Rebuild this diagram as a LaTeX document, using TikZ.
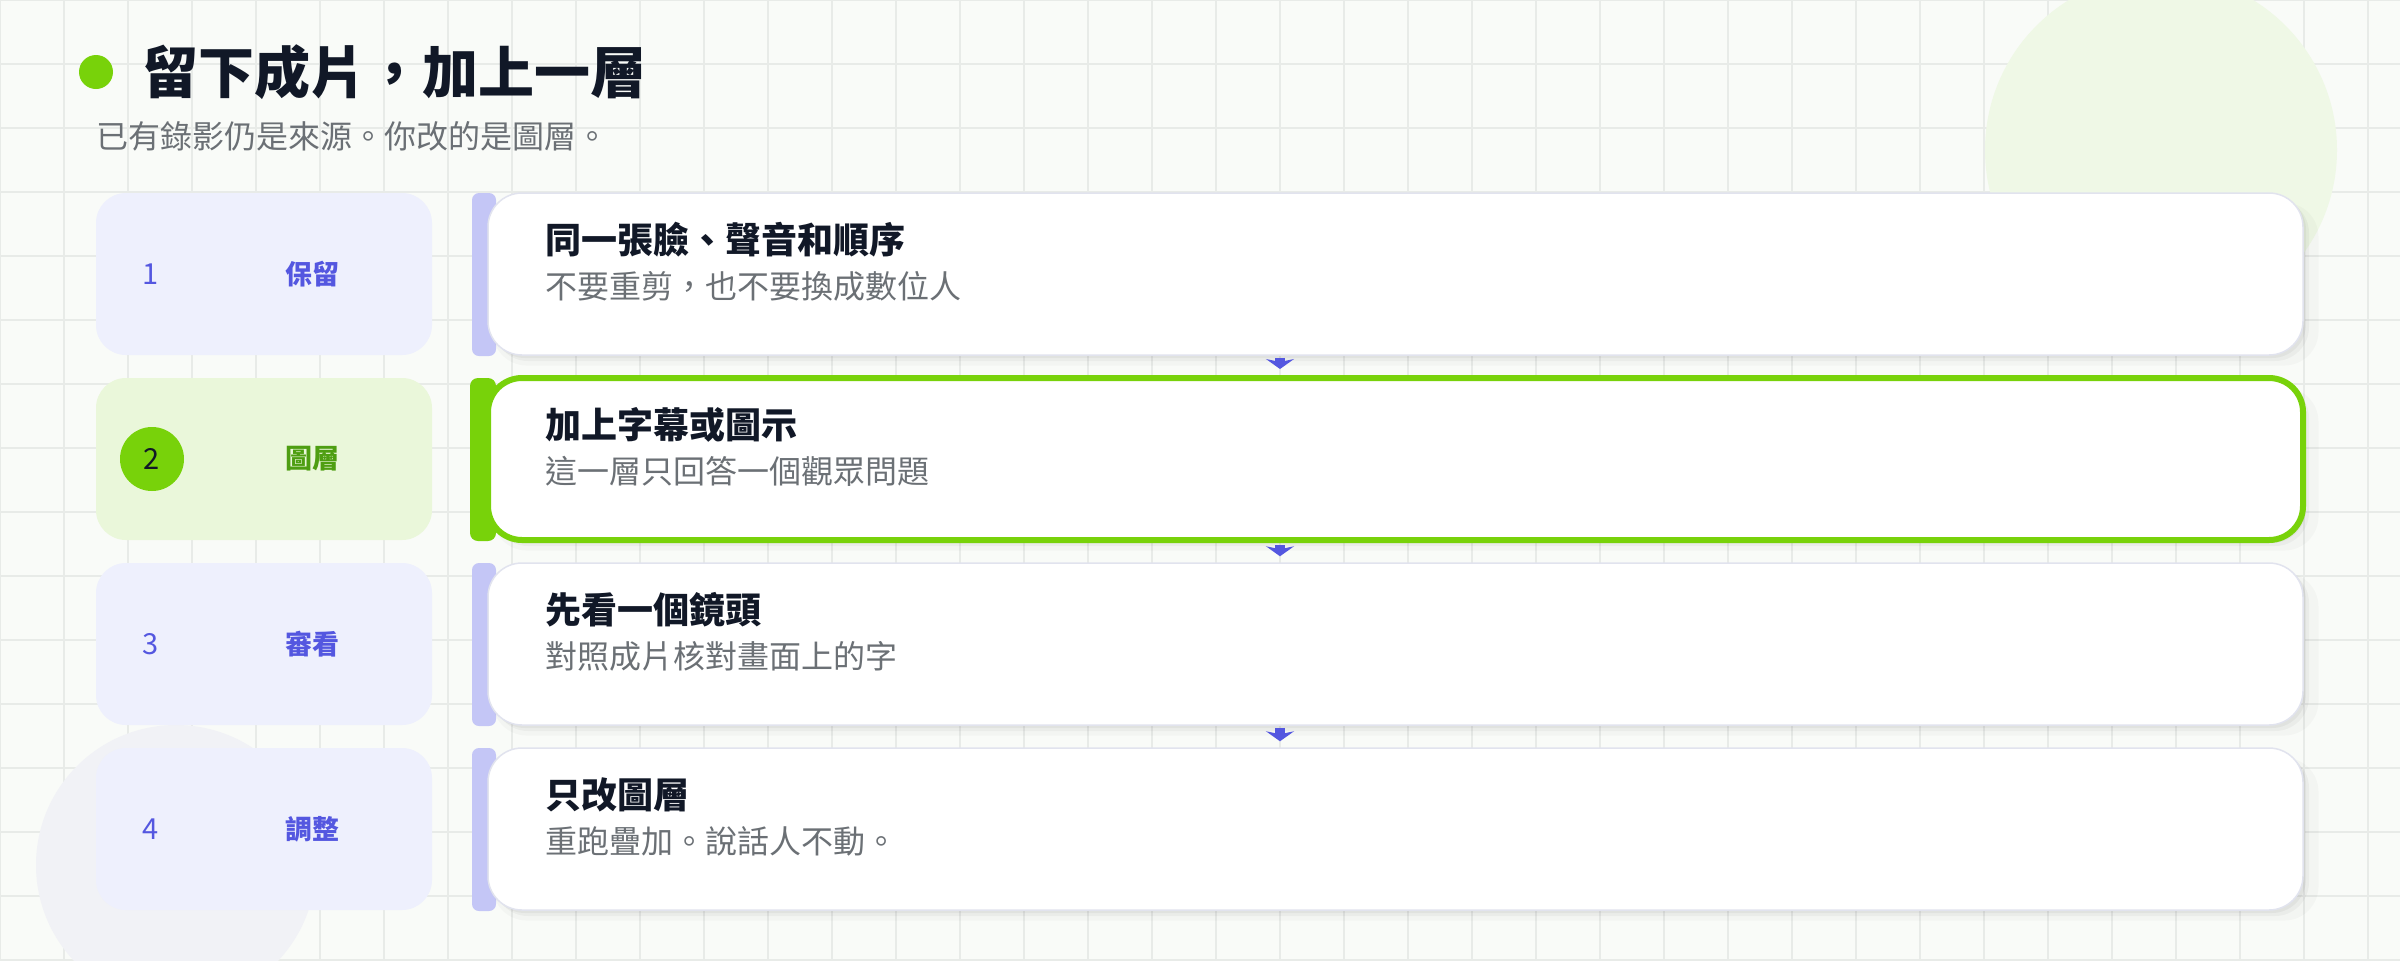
\documentclass[tikz,border=0pt]{standalone}
\usepackage{fontspec}
\setmainfont{Noto Sans CJK TC}
\usetikzlibrary{arrows.meta,shadows}

\definecolor{pagebg}{HTML}{F9FBF8}
\definecolor{gridgray}{HTML}{E8EBE8}
\definecolor{blobgreen}{HTML}{EFF8E6}
\definecolor{blobgray}{HTML}{F1F2F6}
\definecolor{lime}{HTML}{78D20A}
\definecolor{limepale}{HTML}{EAF7DA}
\definecolor{limedark}{HTML}{4E9E12}
\definecolor{lavender}{HTML}{EEF0FD}
\definecolor{lavbar}{HTML}{C4C6F6}
\definecolor{indigo}{HTML}{5457E0}
\definecolor{ink}{HTML}{111827}
\definecolor{muted}{HTML}{6B7075}
\definecolor{cardline}{HTML}{E1E3EE}

\tikzset{
  stepbox/.style={rounded corners=15pt, minimum width=168pt, minimum height=81pt, inner sep=0pt},
  stepnum/.style={font=\fontsize{14.5}{18}\selectfont, text=indigo, inner sep=0pt},
  steplabel/.style={font=\fontsize{13.5}{18}\selectfont\bfseries, text=indigo, inner sep=0pt},
  card/.style={fill=white, draw=cardline, line width=0.75pt, rounded corners=17pt,
    minimum width=907.5pt, minimum height=81pt, inner sep=0pt,
    general shadow={fill=black, opacity=0.025, shadow xshift=5pt, shadow yshift=-5pt, shadow scale=1.006},
    general shadow={fill=black, opacity=0.035, shadow xshift=3pt, shadow yshift=-3pt},
    general shadow={fill=black, opacity=0.04, shadow xshift=1.5pt, shadow yshift=-1.5pt}},
  cardtitle/.style={font=\fontsize{18}{22}\selectfont\bfseries, text=ink, anchor=west, inner sep=0pt},
  cardnote/.style={font=\fontsize{16}{20}\selectfont, text=muted, anchor=west, inner sep=0pt},
  flow/.style={indigo, line width=5pt, shorten <=1pt, shorten >=3pt,
    -{Stealth[length=5pt, width=14pt, inset=1.5pt]}}
}

\begin{document}
\begin{tikzpicture}[x=0.5pt, y=-0.5pt]
		%%%%% START %%%%%
		\useasboundingbox (0,0) rectangle (2400,960);
		\clip (0,0) rectangle (2400,960);
		
		\fill[pagebg] (0,0) rectangle (2400,960);
		\draw[gridgray, line width=0.6pt, step=32pt] (0,960) grid (2400,0);
		\fill[blobgreen] (2161,150) circle (88pt);
		\fill[blobgray] (176,865) circle (70pt);
		
		\fill[lime] (96,72) circle (8.5pt);
		\node[font=\fontsize{28}{34}\selectfont\bfseries, text=ink, anchor=west, inner sep=0pt] (title) at (142,72) {留下成片，加上一層};
		\node[font=\fontsize{16}{20}\selectfont, text=muted, anchor=west, inner sep=0pt] (subtitle) at (96,136) {已有錄影仍是來源。你改的是圖層。};
		
		\node[stepbox, fill=lavender] (step1) at (264,274) {};
		\node[stepnum] (num1) at (151,274) {1};
		\node[steplabel] (lab1) at (312,274) {保留};
		
		\node[stepbox, fill=limepale] (step2) at (264,459) {};
		\node[circle, fill=lime, minimum size=32pt, inner sep=0pt, font=\fontsize{14.5}{18}\selectfont, text=ink] (num2) at (152,459) {2};
		\node[steplabel, text=limedark] (lab2) at (312,459) {圖層};
		
		\node[stepbox, fill=lavender] (step3) at (264,644) {};
		\node[stepnum] (num3) at (151,644) {3};
		\node[steplabel] (lab3) at (312,644) {審看};
		
		\node[stepbox, fill=lavender] (step4) at (264,829) {};
		\node[stepnum] (num4) at (151,829) {4};
		\node[steplabel] (lab4) at (312,829) {調整};
		
		\fill[lavbar, rounded corners=3.5pt] (472,193) rectangle (496,356);
		\node[card] (card1) at (1395.5,274) {};
		\node[cardtitle] (head1) at (545,240) {同一張臉、聲音和順序};
		\node[cardnote] (note1) at (545,286) {不要重剪，也不要換成數位人};
		
		\fill[lime, rounded corners=4pt] (470,378) rectangle (496,541);
		\node[card, draw=lime, line width=3pt] (card2) at (1395.5,459) {};
		\node[cardtitle] (head2) at (545,425) {加上字幕或圖示};
		\node[cardnote] (note2) at (545,471) {這一層只回答一個觀眾問題};
		
		\fill[lavbar, rounded corners=3.5pt] (472,563) rectangle (496,726);
		\node[card] (card3) at (1395.5,644) {};
		\node[cardtitle] (head3) at (545,610) {先看一個鏡頭};
		\node[cardnote] (note3) at (545,656) {對照成片核對畫面上的字};
		
		\fill[lavbar, rounded corners=3.5pt] (472,748) rectangle (496,911);
		\node[card] (card4) at (1395.5,829) {};
		\node[cardtitle] (head4) at (545,795) {只改圖層};
		\node[cardnote] (note4) at (545,841) {重跑疊加。說話人不動。};
		
		\draw[flow] ([xshift=-57.75pt]card1.south) -- ([xshift=-57.75pt]card2.north);
		\draw[flow] ([xshift=-57.75pt]card2.south) -- ([xshift=-57.75pt]card3.north);
		\draw[flow] ([xshift=-57.75pt]card3.south) -- ([xshift=-57.75pt]card4.north);
		
		%%%%% END %%%%%
\end{tikzpicture}
\end{document}
